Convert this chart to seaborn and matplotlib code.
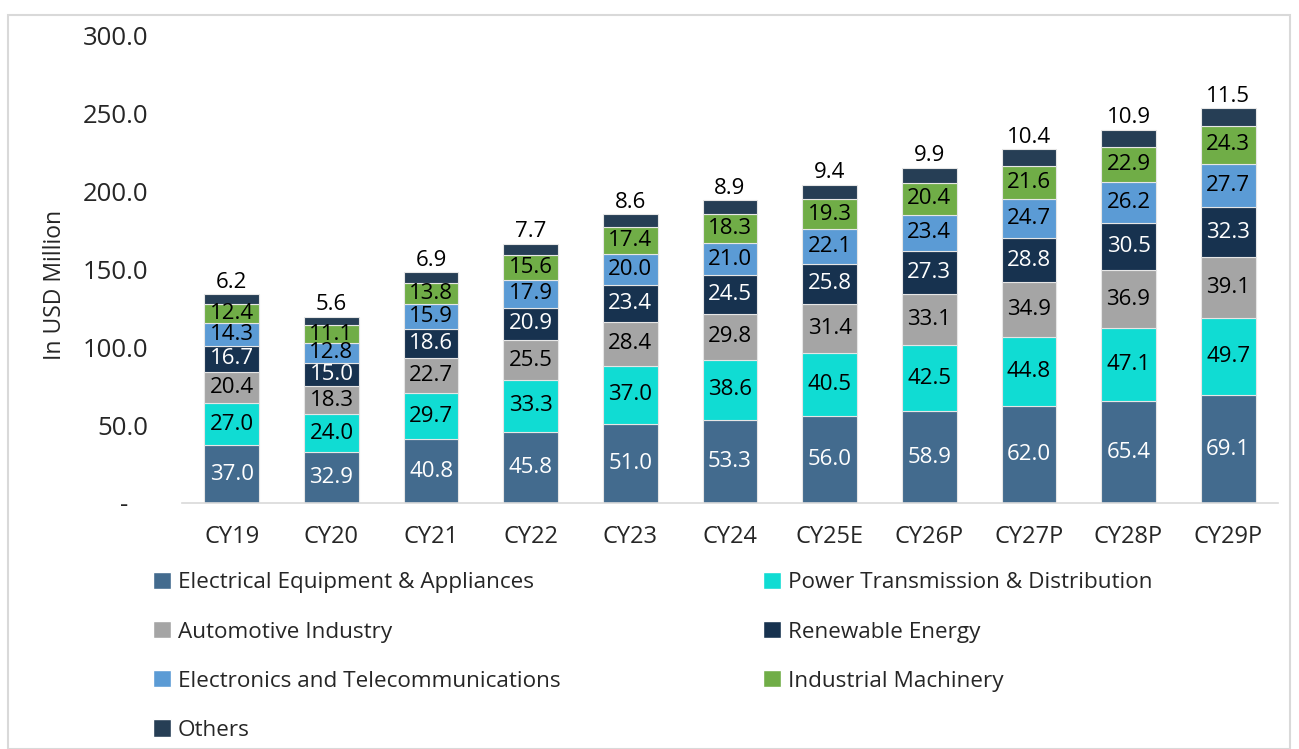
import numpy as np
import pandas as pd
import seaborn as sns
import matplotlib
matplotlib.use('Agg')
import matplotlib.pyplot as plt
from matplotlib.patches import Patch, Rectangle

years = ['CY19', 'CY20', 'CY21', 'CY22', 'CY23', 'CY24', 'CY25E', 'CY26P', 'CY27P', 'CY28P', 'CY29P']
electrical = [37.0, 32.9, 40.8, 45.8, 51.0, 53.3, 56.0, 58.9, 62.0, 65.4, 69.1]
power_td = [27.0, 24.0, 29.7, 33.3, 37.0, 38.6, 40.5, 42.5, 44.8, 47.1, 49.7]
automotive = [20.4, 18.3, 22.7, 25.5, 28.4, 29.8, 31.4, 33.1, 34.9, 36.9, 39.1]
renewable = [16.7, 15.0, 18.6, 20.9, 23.4, 24.5, 25.8, 27.3, 28.8, 30.5, 32.3]
electronics = [14.3, 12.8, 15.9, 17.9, 20.0, 21.0, 22.1, 23.4, 24.7, 26.2, 27.7]
machinery = [12.4, 11.1, 13.8, 15.6, 17.4, 18.3, 19.3, 20.4, 21.6, 22.9, 24.3]
others = [6.2, 5.6, 6.9, 7.7, 8.6, 8.9, 9.4, 9.9, 10.4, 10.9, 11.5]

series = [
    ('Electrical Equipment & Appliances', electrical, '#436B8E', 'white'),
    ('Power Transmission & Distribution', power_td, '#10DCD3', 'black'),
    ('Automotive Industry', automotive, '#A5A5A5', 'black'),
    ('Renewable Energy', renewable, '#17324F', 'white'),
    ('Electronics and Telecommunications', electronics, '#5B9BD5', 'black'),
    ('Industrial Machinery', machinery, '#70AD47', 'black'),
    ('Others', others, '#263E55', None),
]

sns.set_style('white')
plt.rcParams['font.family'] = ['Open Sans', 'DejaVu Sans']

fig = plt.figure(figsize=(12.99, 7.49), dpi=100)
ax = fig.add_axes([182 / 1299, 1 - 503 / 749, (1278 - 182) / 1299, (503 - 36) / 749])

# light frame round the chart
fig.patches.append(Rectangle((8 / 1299, 0), (1290 - 8) / 1299, 1 - 15 / 749,
                             transform=fig.transFigure, fill=False,
                             edgecolor='#D9D9D9', linewidth=1.5))

bottom = np.zeros(len(years))
handles = []
for name, vals, color, tcol in series:
    df = pd.DataFrame({'year': years, 'value': vals})
    sns.barplot(data=df, x='year', y='value', color=color, width=0.55,
                bottom=bottom, ax=ax, edgecolor='#E6E6E6', linewidth=0.8,
                saturation=1)
    for i, v in enumerate(vals):
        if tcol is None:
            ax.text(i, bottom[i] + v + 0.8, f'{v:.1f}', ha='center', va='bottom',
                    fontsize=16, color='black')
        else:
            ax.text(i, bottom[i] + v / 2, f'{v:.1f}', ha='center', va='center',
                    fontsize=16, color=tcol)
    bottom = bottom + np.array(vals)
    handles.append(Patch(facecolor=color, label=name))

ax.set_ylim(0, 300)
ax.set_xlim(-0.5, 10.5)
ax.set_yticks([0, 50, 100, 150, 200, 250, 300])
ax.set_yticklabels(['-   ', '50.0', '100.0', '150.0', '200.0', '250.0', '300.0'], fontsize=18.5)
ax.tick_params(axis='x', labelsize=17, length=0, pad=16)
ax.tick_params(axis='y', length=0, pad=24)
ax.set_xlabel('')
ax.set_ylabel('In USD Million', fontsize=16.5)
ax.yaxis.set_label_coords(-0.105, 0.467)
for s in ['top', 'right', 'left']:
    ax.spines[s].set_visible(False)
ax.spines['bottom'].set_color('#D9D9D9')
ax.spines['bottom'].set_linewidth(1.2)

col1 = [handles[0], handles[2], handles[4], handles[6]]
col2 = [handles[1], handles[3], handles[5]]
kw = dict(frameon=False, fontsize=16.2, handlelength=0.8, handleheight=0.8,
          handletextpad=0.3, labelspacing=1.23, borderaxespad=0, borderpad=0)
fig.legend(handles=col1, loc='upper left', bbox_to_anchor=(153 / 1299, 1 - 572 / 749), **kw)
fig.legend(handles=col2, loc='upper left', bbox_to_anchor=(763 / 1299, 1 - 572 / 749), **kw)

fig.savefig('out.png', dpi=100)
